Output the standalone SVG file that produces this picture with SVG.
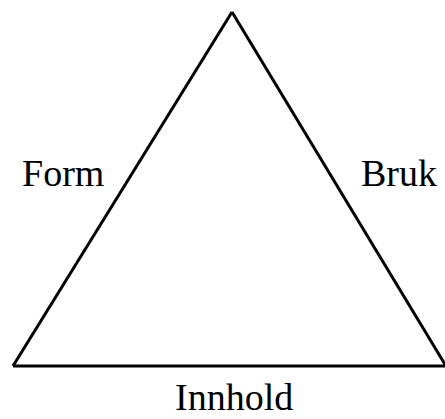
<svg xmlns="http://www.w3.org/2000/svg" width="445" height="419" viewBox="0 0 445 419">
<style>
.lbl{font-family:"Liberation Serif","Times New Roman",serif;font-size:38px;fill:#000}
.edge{stroke:#000;stroke-width:3;fill:none}
</style>
<rect width="445" height="419" fill="#fff"/>
<g id="connectors">
<line class="edge" x1="232" y1="12" x2="13" y2="366"/>
<line class="edge" x1="232" y1="12" x2="446" y2="366"/>
<line class="edge" x1="13" y1="366" x2="446" y2="366"/>
</g>
<g id="form"><text class="lbl" x="22" y="186">Form</text></g>
<g id="bruk"><text class="lbl" x="361" y="186">Bruk</text></g>
<g id="innhold"><text class="lbl" x="175" y="410">Innhold</text></g>
</svg>
